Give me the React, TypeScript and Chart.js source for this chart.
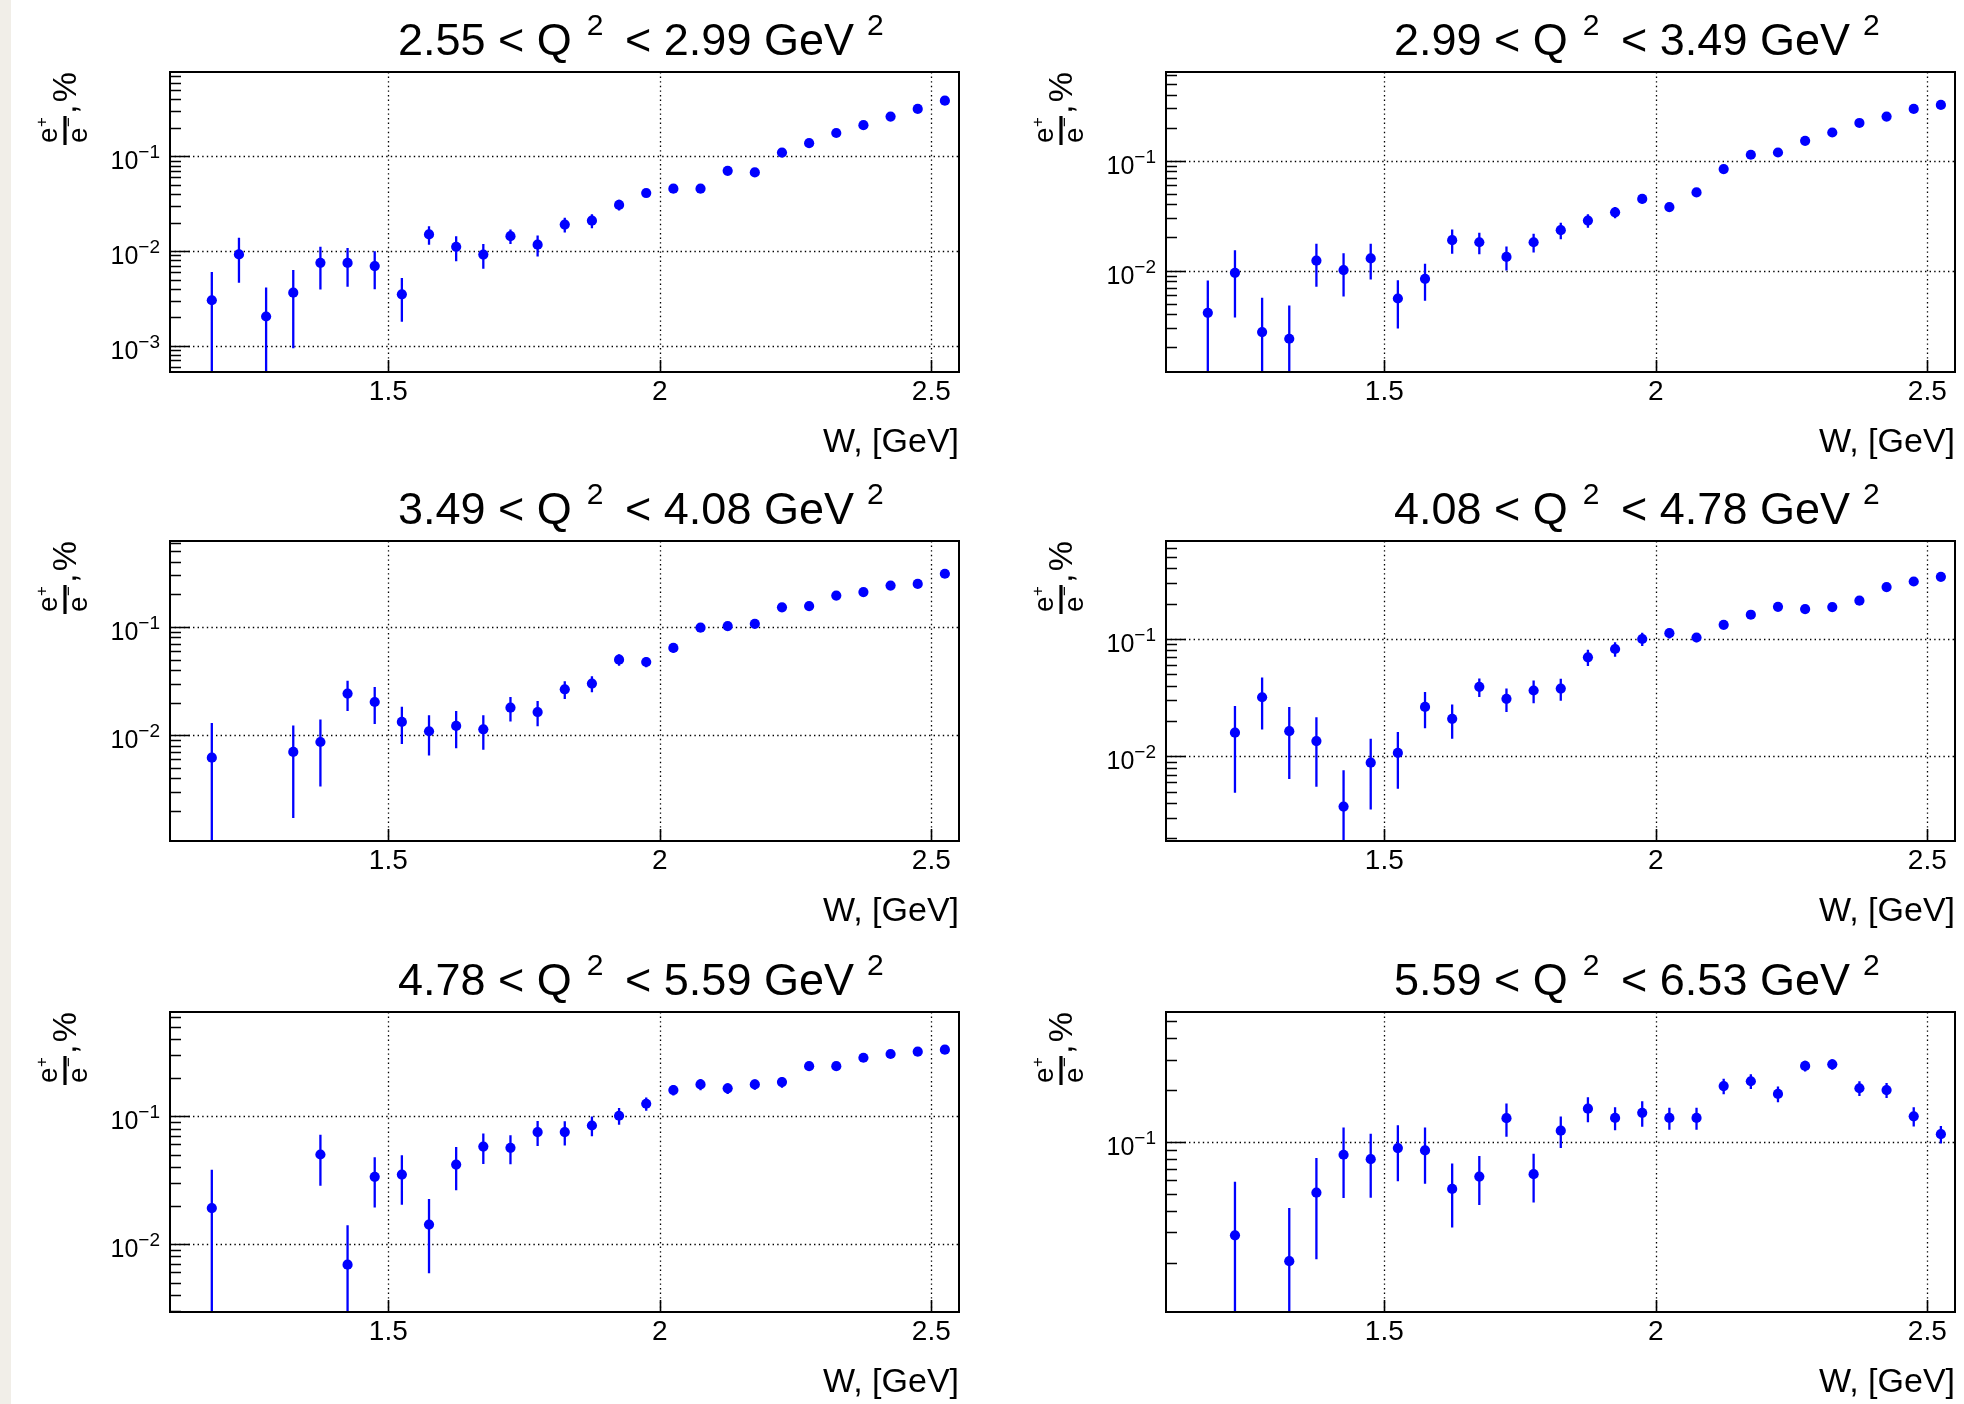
import React, { useEffect, useRef } from 'react';
import { Chart, registerables } from 'chart.js';

Chart.register(...registerables);

const FONT = '"Liberation Sans", Arial, Helvetica, sans-serif';
const BLUE = '#0000ff';

// Q^2 bin edges (GeV^2), one bin per panel
const Q2_LOW = ['2.55', '2.99', '3.49', '4.08', '4.78', '5.59'];
const Q2_HIGH = ['2.99', '3.49', '4.08', '4.78', '5.59', '6.53'];

// W axis
const X_TICKS = [1.5, 2, 2.5];
const X_TICK_LABELS = ['1.5', '2', '2.5'];
const X_MIN = 1.098;
const X_MAX = 2.551;

// log y-axis range of each panel
const Y_MIN = [5.29e-4, 0.00119, 0.001057, 0.0019, 0.00294, 0.01035];
const Y_MAX = [0.78, 0.644, 0.622, 0.684, 0.652, 0.567];

// 2.55 < Q^2 < 2.99
const W1 = [1.175, 1.225, 1.275, 1.325, 1.375, 1.425, 1.475, 1.525, 1.575, 1.625, 1.675, 1.725, 1.775, 1.825, 1.875, 1.925, 1.975, 2.025, 2.075, 2.125, 2.175, 2.225, 2.275, 2.325, 2.375, 2.425, 2.475, 2.525];
const R1 = [0.00303, 0.00923, 0.00204, 0.00364, 0.00753, 0.0075, 0.00695, 0.0035, 0.015, 0.0111, 0.0092, 0.0144, 0.0117, 0.0191, 0.021, 0.0308, 0.0411, 0.0457, 0.0457, 0.0706, 0.0679, 0.11, 0.138, 0.177, 0.214, 0.264, 0.318, 0.388];
const E1 = [0.003, 0.0046, 0.0021, 0.0027, 0.0036, 0.0033, 0.003, 0.0017, 0.0033, 0.0033, 0.0027, 0.0025, 0.0029, 0.0034, 0.0035, 0.004, 0.0035, 0.0035, 0.0035, 0.005, 0.005, 0.007, 0.008, 0.009, 0.01, 0.012, 0.014, 0.016];

// 2.99 < Q^2 < 3.49
const W2 = [1.175, 1.225, 1.275, 1.325, 1.375, 1.425, 1.475, 1.525, 1.575, 1.625, 1.675, 1.725, 1.775, 1.825, 1.875, 1.925, 1.975, 2.025, 2.075, 2.125, 2.175, 2.225, 2.275, 2.325, 2.375, 2.425, 2.475, 2.525];
const R2 = [0.00412, 0.00953, 0.00275, 0.00239, 0.0123, 0.0101, 0.0129, 0.00556, 0.0084, 0.0189, 0.0181, 0.0133, 0.0181, 0.0233, 0.0285, 0.0339, 0.0449, 0.0379, 0.0515, 0.084, 0.1135, 0.119, 0.152, 0.181, 0.221, 0.253, 0.297, 0.323];
const E2 = [0.004, 0.0058, 0.0029, 0.0024, 0.0052, 0.0043, 0.0046, 0.0026, 0.0031, 0.0047, 0.004, 0.0033, 0.0035, 0.004, 0.004, 0.004, 0.004, 0.0035, 0.004, 0.006, 0.008, 0.008, 0.01, 0.011, 0.013, 0.014, 0.016, 0.017];

// 3.49 < Q^2 < 4.08
const W3 = [1.175, 1.325, 1.375, 1.425, 1.475, 1.525, 1.575, 1.625, 1.675, 1.725, 1.775, 1.825, 1.875, 1.925, 1.975, 2.025, 2.075, 2.125, 2.175, 2.225, 2.275, 2.325, 2.375, 2.425, 2.475, 2.525];
const R3 = [0.00622, 0.00702, 0.00867, 0.0243, 0.0203, 0.0133, 0.0109, 0.0122, 0.01135, 0.018, 0.0164, 0.0266, 0.03, 0.0499, 0.0475, 0.064, 0.0986, 0.102, 0.107, 0.152, 0.156, 0.195, 0.21, 0.241, 0.25, 0.31];
const E3 = [0.0068, 0.0053, 0.0053, 0.0075, 0.0076, 0.005, 0.0044, 0.0046, 0.004, 0.0046, 0.0043, 0.005, 0.005, 0.006, 0.005, 0.006, 0.007, 0.007, 0.008, 0.01, 0.01, 0.012, 0.013, 0.014, 0.015, 0.017];

// 4.08 < Q^2 < 4.78
const W4 = [1.225, 1.275, 1.325, 1.375, 1.425, 1.475, 1.525, 1.575, 1.625, 1.675, 1.725, 1.775, 1.825, 1.875, 1.925, 1.975, 2.025, 2.075, 2.125, 2.175, 2.225, 2.275, 2.325, 2.375, 2.425, 2.475, 2.525];
const R4 = [0.0159, 0.0319, 0.0164, 0.0135, 0.00373, 0.00883, 0.0107, 0.0264, 0.0209, 0.0391, 0.0309, 0.0364, 0.0378, 0.0698, 0.0822, 0.1, 0.112, 0.103, 0.132, 0.161, 0.188, 0.18, 0.187, 0.212, 0.277, 0.309, 0.339];
const E4 = [0.011, 0.015, 0.01, 0.008, 0.0039, 0.0053, 0.0054, 0.009, 0.0068, 0.007, 0.007, 0.008, 0.008, 0.011, 0.0115, 0.013, 0.011, 0.009, 0.01, 0.011, 0.012, 0.012, 0.012, 0.013, 0.015, 0.016, 0.017];

// 4.78 < Q^2 < 5.59
const W5 = [1.175, 1.375, 1.425, 1.475, 1.525, 1.575, 1.625, 1.675, 1.725, 1.775, 1.825, 1.875, 1.925, 1.975, 2.025, 2.075, 2.125, 2.175, 2.225, 2.275, 2.325, 2.375, 2.425, 2.475, 2.525];
const R5 = [0.0191, 0.0501, 0.00689, 0.0335, 0.0349, 0.0142, 0.0418, 0.0578, 0.0565, 0.075, 0.075, 0.0845, 0.1007, 0.125, 0.16, 0.177, 0.165, 0.177, 0.1845, 0.246, 0.246, 0.286, 0.306, 0.319, 0.331];
const E5 = [0.019, 0.0215, 0.0071, 0.0142, 0.0146, 0.0083, 0.0155, 0.0155, 0.0145, 0.0165, 0.016, 0.015, 0.015, 0.015, 0.015, 0.018, 0.016, 0.016, 0.018, 0.015, 0.015, 0.015, 0.016, 0.016, 0.016];

// 5.59 < Q^2 < 6.53
const W6 = [1.225, 1.325, 1.375, 1.425, 1.475, 1.525, 1.575, 1.625, 1.675, 1.725, 1.775, 1.825, 1.875, 1.925, 1.975, 2.025, 2.075, 2.125, 2.175, 2.225, 2.275, 2.325, 2.375, 2.425, 2.475, 2.525];
const R6 = [0.0288, 0.0204, 0.0509, 0.0844, 0.0796, 0.0923, 0.0894, 0.0535, 0.0631, 0.1374, 0.0651, 0.1164, 0.156, 0.138, 0.1476, 0.138, 0.138, 0.211, 0.225, 0.19, 0.276, 0.282, 0.205, 0.2, 0.141, 0.111];
const E6 = [0.03, 0.021, 0.03, 0.037, 0.032, 0.033, 0.032, 0.0215, 0.02, 0.03, 0.0205, 0.024, 0.026, 0.021, 0.025, 0.02, 0.02, 0.022, 0.022, 0.02, 0.02, 0.02, 0.02, 0.02, 0.018, 0.013];

const W_SETS = [W1, W2, W3, W4, W5, W6];
const R_SETS = [R1, R2, R3, R4, R5, R6];
const E_SETS = [E1, E2, E3, E4, E5, E6];

// page layout (pixels)
const PAGE_W = 1964;
const PAGE_H = 1404;
const PANEL_W = 982;
const PANEL_H = 468;
const COL_X = [0, 982];
const ROW_Y = [0, 468, 936];
const BOX_LEFT = [170, 1166];
const BOX_TOP = [72, 541, 1012];
const BOX_W = 789;
const BOX_H = 300;

function decadesIn(min: number, max: number): number[] {
  const out: number[] = [];
  for (let e = Math.floor(Math.log10(min)); e <= Math.ceil(Math.log10(max)); e++) {
    const v = Math.pow(10, e);
    if (v >= min * 0.9999 && v <= max * 1.0001) out.push(v);
  }
  return out;
}

function minorsIn(min: number, max: number): number[] {
  const out: number[] = [];
  for (let e = Math.floor(Math.log10(min)); e <= Math.ceil(Math.log10(max)); e++) {
    for (let k = 2; k <= 9; k++) {
      const v = k * Math.pow(10, e);
      if (v >= min && v <= max) out.push(v);
    }
  }
  return out;
}

type Part = { text: string; size: number; rise?: number; gap?: number };

function drawRich(ctx: CanvasRenderingContext2D, x: number, y: number, parts: Part[]) {
  let cx = x;
  ctx.textAlign = 'left';
  ctx.textBaseline = 'alphabetic';
  for (const p of parts) {
    cx += p.gap || 0;
    ctx.font = `${p.size}px ${FONT}`;
    ctx.fillText(p.text, cx, y - (p.rise || 0));
    cx += ctx.measureText(p.text).width;
  }
}

function makeFrame(idx: number) {
  return {
    id: 'rootFrame',
    beforeDatasetsDraw(chart: any) {
      const { ctx, chartArea: a, scales } = chart;
      const xs = scales.x;
      const ys = scales.y;
      ctx.save();
      ctx.strokeStyle = '#000';
      ctx.lineWidth = 1.3;
      ctx.setLineDash([1.4, 3.2]);
      ctx.beginPath();
      for (const t of X_TICKS) {
        const px = Math.round(xs.getPixelForValue(t)) + 0.5;
        ctx.moveTo(px, a.top);
        ctx.lineTo(px, a.bottom);
      }
      for (const d of decadesIn(ys.min, ys.max)) {
        const py = Math.round(ys.getPixelForValue(d)) + 0.5;
        ctx.moveTo(a.left, py);
        ctx.lineTo(a.right, py);
      }
      ctx.stroke();
      ctx.restore();
    },
    afterDatasetsDraw(chart: any) {
      const { ctx, chartArea: a, scales } = chart;
      const xs = scales.x;
      const ys = scales.y;
      const decades = decadesIn(ys.min, ys.max);
      ctx.save();
      ctx.fillStyle = '#000';
      ctx.strokeStyle = '#000';
      ctx.setLineDash([]);

      // tick marks, drawn inside the frame
      ctx.lineWidth = 1.6;
      ctx.beginPath();
      for (const d of decades) {
        const py = Math.round(ys.getPixelForValue(d)) + 0.5;
        ctx.moveTo(a.left, py);
        ctx.lineTo(a.left + 20, py);
      }
      for (const m of minorsIn(ys.min, ys.max)) {
        const py = Math.round(ys.getPixelForValue(m)) + 0.5;
        ctx.moveTo(a.left, py);
        ctx.lineTo(a.left + 11, py);
      }
      for (const t of X_TICKS) {
        const px = Math.round(xs.getPixelForValue(t)) + 0.5;
        ctx.moveTo(px, a.bottom);
        ctx.lineTo(px, a.bottom - 12);
      }
      ctx.stroke();

      // frame
      ctx.lineWidth = 2;
      ctx.strokeRect(a.left, a.top, a.right - a.left, a.bottom - a.top);

      // x tick labels
      ctx.font = `28px ${FONT}`;
      ctx.textAlign = 'center';
      ctx.textBaseline = 'alphabetic';
      X_TICKS.forEach((t, i) => {
        ctx.fillText(X_TICK_LABELS[i], xs.getPixelForValue(t), a.bottom + 28);
      });

      // y tick labels: 10^n
      for (const d of decades) {
        const py = ys.getPixelForValue(d);
        const expText = '\u2212' + String(Math.abs(Math.round(Math.log10(d))));
        ctx.font = `19px ${FONT}`;
        const wExp = ctx.measureText(expText).width;
        ctx.font = `25px ${FONT}`;
        const wTen = ctx.measureText('10').width;
        const xEnd = a.left - 10;
        ctx.textAlign = 'left';
        ctx.fillText('10', xEnd - wExp - wTen, py + 13);
        ctx.font = `19px ${FONT}`;
        ctx.fillText(expText, xEnd - wExp, py + 2);
      }

      // x axis title
      ctx.font = `34px ${FONT}`;
      ctx.textAlign = 'right';
      ctx.fillText('W, [GeV]', a.right, a.bottom + 80);

      // panel title
      drawRich(ctx, a.left + 228, a.top - 17, [
        { text: `${Q2_LOW[idx]} < Q`, size: 45 },
        { text: '2', size: 30, rise: 20, gap: 15 },
        { text: ` < ${Q2_HIGH[idx]} GeV`, size: 45, gap: 9 },
        { text: '2', size: 30, rise: 20, gap: 13 },
      ]);

      // y axis title: e+/e-, %  (rotated, ending at the top of the frame)
      ctx.save();
      ctx.translate(a.left - 94, a.top + 73);
      ctx.rotate(-Math.PI / 2);
      ctx.textAlign = 'left';
      ctx.lineWidth = 3.2;
      ctx.beginPath();
      ctx.moveTo(0, -11);
      ctx.lineTo(29, -11);
      ctx.stroke();
      ctx.font = `28px ${FONT}`;
      ctx.fillText('e', 2, -19);
      ctx.fillText('e', 2, 11);
      ctx.font = `17px ${FONT}`;
      ctx.fillText('+', 18, -29);
      ctx.fillText('\u2212', 18, -2);
      ctx.font = `34px ${FONT}`;
      ctx.fillText(',', 31, 0);
      ctx.textAlign = 'right';
      ctx.fillText('%', 73, 0);
      ctx.restore();

      ctx.restore();
    },
  };
}

function Panel({ idx }: { idx: number }) {
  const ref = useRef<HTMLCanvasElement | null>(null);
  const col = idx % 2;
  const row = Math.floor(idx / 2);
  const x0 = COL_X[col];
  const y0 = ROW_Y[row];

  useEffect(() => {
    const canvas = ref.current;
    if (!canvas) return;
    const W = W_SETS[idx];
    const R = R_SETS[idx];
    const E = E_SETS[idx];

    const points = W.map((w, i) => ({ x: w, y: R[i] }));
    const bars: { x: number; y: number | null }[] = [];
    W.forEach((w, i) => {
      bars.push({ x: w, y: Math.max(R[i] - E[i], 1e-9) });
      bars.push({ x: w, y: R[i] + E[i] });
      bars.push({ x: w, y: null });
    });

    const left = BOX_LEFT[col] - x0;
    const top = BOX_TOP[row] - y0;
    const chart = new Chart(canvas, {
      type: 'scatter',
      data: {
        datasets: [
          {
            type: 'scatter',
            data: points,
            order: 0,
            pointRadius: 5.1,
            pointHoverRadius: 5.1,
            pointBackgroundColor: BLUE,
            pointBorderColor: BLUE,
            pointBorderWidth: 0,
          } as any,
          {
            type: 'line',
            data: bars,
            order: 1,
            borderColor: BLUE,
            borderWidth: 2.3,
            pointRadius: 0,
            pointHoverRadius: 0,
            spanGaps: false,
            tension: 0,
            fill: false,
            clip: 0,
          } as any,
        ],
      },
      options: {
        animation: false,
        responsive: false,
        maintainAspectRatio: false,
        events: [],
        layout: {
          padding: {
            left,
            top,
            right: PANEL_W - left - BOX_W,
            bottom: PANEL_H - top - BOX_H,
          },
        },
        plugins: {
          legend: { display: false },
          tooltip: { enabled: false },
        },
        scales: {
          x: { type: 'linear', min: X_MIN, max: X_MAX, display: false, bounds: 'data' },
          y: { type: 'logarithmic', min: Y_MIN[idx], max: Y_MAX[idx], display: false, bounds: 'data' },
        },
      } as any,
      plugins: [makeFrame(idx)],
    });
    return () => chart.destroy();
  }, [idx]);

  return (
    <canvas
      ref={ref}
      width={PANEL_W}
      height={PANEL_H}
      style={{ position: 'absolute', left: x0, top: y0, width: PANEL_W, height: PANEL_H }}
    />
  );
}

export default function App() {
  return (
    <div
      style={{
        position: 'absolute',
        left: 0,
        top: 0,
        width: PAGE_W,
        height: PAGE_H,
        background: '#ffffff',
        overflow: 'hidden',
      }}
    >
      <div style={{ position: 'absolute', left: 0, top: 0, width: 11, height: PAGE_H, background: '#f1eee8' }} />
      {[0, 1, 2, 3, 4, 5].map((i) => (
        <Panel key={i} idx={i} />
      ))}
    </div>
  );
}
